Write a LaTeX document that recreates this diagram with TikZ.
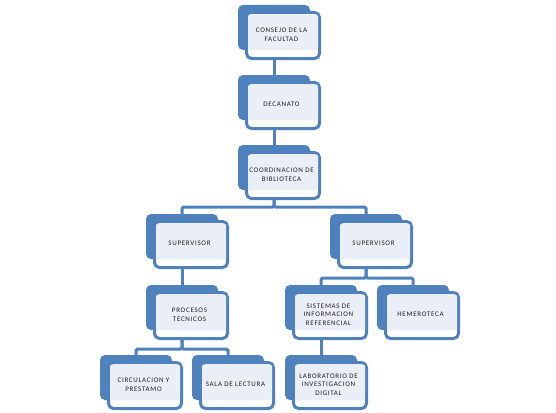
\documentclass[tikz,border=0pt]{standalone}
\usepackage{fontspec}
\setmainfont{Carlito}[LetterSpace=10]
\definecolor{obl}{RGB}{79,129,189}
\definecolor{ofill}{RGB}{234,239,247}
\definecolor{otxt}{RGB}{30,30,30}
\tikzset{
  backbox/.style={fill=obl, draw=none, rounded corners=5pt, minimum width=72pt, minimum height=45pt, inner sep=0pt},
  frontbox/.style={fill=white, draw=obl, line width=3pt, rounded corners=5pt, minimum width=73pt, minimum height=46pt, inner sep=0pt},
  fillbox/.style={fill=ofill, draw=none, rounded corners=1.5pt, minimum width=70pt, minimum height=35.5pt, inner sep=0pt},
  txt/.style={text=otxt, align=center, inner sep=0pt, font=\fontsize{7}{8.7}\selectfont},
  conn/.style={draw=obl, line width=3pt, rounded corners=1.5pt}
}
\newcommand\orgbox[4]{%
  \node[backbox] (#1-b) at (#2+36, #3+22.5) {};
  \node[frontbox] (#1) at (#2+45, #3+30.5) {};
  \node[fillbox] (#1-f) at (#2+45, #3+27.25) {};
  \node[txt] (#1-t) at (#2+43.5, #3+29.5) {#4};
}
\begin{document}
\begin{tikzpicture}[x=1pt, y=-1pt]
\useasboundingbox (0,0) rectangle (556,412);
\orgbox{consejo}{238}{5}{CONSEJO DE LA\\FACULTAD}
\orgbox{decanato}{238}{75}{DECANATO}
\orgbox{coord}{238}{145}{COORDINACION DE\\BIBLIOTECA}
\orgbox{supL}{146}{214}{SUPERVISOR}
\orgbox{supR}{330}{214}{SUPERVISOR}
\orgbox{proc}{146}{285}{PROCESOS\\TECNICOS}
\orgbox{sist}{285}{285}{SISTEMAS DE\\INFORMACION\\REFERENCIAL}
\orgbox{hemero}{377}{285}{HEMEROTECA}
\orgbox{circ}{100}{355}{CIRCULACION Y\\PRESTAMO}
\orgbox{sala}{192}{355}{SALA DE LECTURA}
\orgbox{lab}{285}{355}{LABORATORIO DE\\INVESTIGACION\\DIGITAL}
% connectors
\draw[conn] (consejo-b.center |- consejo.south) -- (decanato-b.north);
\draw[conn] (decanato-b.center |- decanato.south) -- (coord-b.north);
\draw[conn] (coord-b.center |- coord.south) -- ++(0,7) -| (supL-b.north);
\draw[conn] (coord-b.center |- coord.south) -- ++(0,7) -| (supR-b.north);
\draw[conn] (supL-b.center |- supL.south) -- (proc-b.north);
\draw[conn] (supR-b.center |- supR.south) -- ++(0,9) -| (sist-b.north);
\draw[conn] (supR-b.center |- supR.south) -- ++(0,9) -| (hemero-b.north);
\draw[conn] (sist-b.center |- sist.south) -- (lab-b.north);
\draw[conn] (proc-b.center |- proc.south) -- ++(0,9) -| (circ-b.north);
\draw[conn] (proc-b.center |- proc.south) -- ++(0,9) -| (sala-b.north);
\end{tikzpicture}
\end{document}
